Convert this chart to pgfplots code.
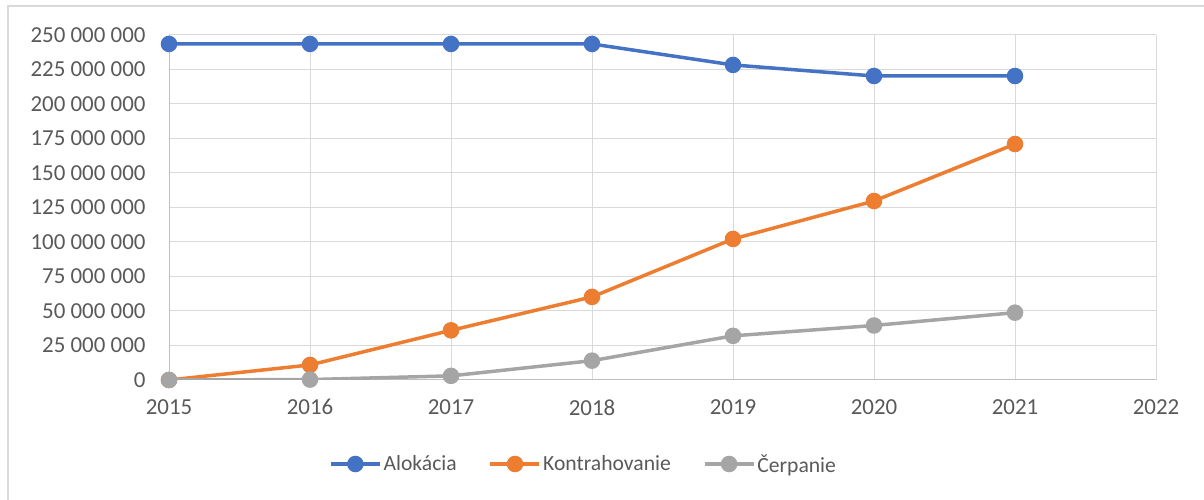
\documentclass[border=0pt]{standalone}
\usepackage{pgfplots}
\pgfplotsset{compat=1.18}
\usepackage{fontspec}
\setmainfont{Carlito}
\definecolor{cblue}{HTML}{4472C4}
\definecolor{corange}{HTML}{ED7D31}
\definecolor{cgray}{HTML}{A5A5A5}
\definecolor{ctext}{HTML}{595959}
\definecolor{cgrid}{HTML}{D9D9D9}
\definecolor{caxis}{HTML}{BFBFBF}
\begin{document}
\begin{tikzpicture}
\path[use as bounding box] (0,0) rectangle (1204bp,500bp);
\draw[cgrid, line width=1.2bp] (8bp,0) -- (8bp,494bp) -- (1204bp,494bp);
\begin{axis}[
  at={(169bp,120bp)}, anchor=south west,
  scale only axis, width=987bp, height=345bp,
  xmin=2015, xmax=2022, ymin=0, ymax=250000000,
  xtick={2015,2016,2017,2018,2019,2020,2021,2022},
  xticklabels={2015,2016,2017,2018,2019,2020,2021,2022},
  ytick distance=25000000,
  scaled y ticks=false,
  hide obscured x ticks=false, hide obscured y ticks=false,
  /pgf/number format/.cd, fixed, precision=0, 1000 sep={\ }, assume math mode=true,
  /pgfplots/.cd,
  grid=major, grid style={cgrid, line width=1bp},
  axis line style={caxis, line width=1bp},
  axis x line*=bottom, axis y line*=left,
  tick style={draw=none},
  ticklabel style={font=\fontsize{23}{27}\selectfont, text=ctext},
  yticklabel style={xshift=-20bp},
  xticklabel style={yshift=-16bp},
  legend columns=3,
  legend style={draw=none, fill=none, at={(0.159,-0.2435)}, anchor=west,
    font=\fontsize{21.7}{25}\selectfont, text=ctext,
    /tikz/every even column/.append style={column sep=30bp}},
  legend image code/.code={
    \draw[#1, mark=none] (0bp,0bp) -- (49bp,0bp);
    \draw[#1, only marks] plot coordinates {(24.5bp,0bp)};
  },
  every axis plot/.append style={line width=3.5bp, mark=*, mark size=6.5bp, mark options={solid}},
]
\addplot[cblue, mark options={fill=cblue, draw=cblue}] coordinates {
  (2015,243500000) (2016,243500000) (2017,243500000) (2018,243500000)
  (2019,228300000) (2020,220300000) (2021,220300000)};
\addlegendentry{Alokácia}
\addplot[corange, mark options={fill=corange, draw=corange}] coordinates {
  (2015,0) (2016,10900000) (2017,36000000) (2018,60200000)
  (2019,102200000) (2020,129700000) (2021,171000000)};
\addlegendentry{Kontrahovanie}
\addplot[cgray, mark options={fill=cgray, draw=cgray}] coordinates {
  (2015,0) (2016,300000) (2017,3000000) (2018,14000000)
  (2019,32000000) (2020,39500000) (2021,48800000)};
\addlegendentry{Čerpanie}
\end{axis}
\end{tikzpicture}
\end{document}
